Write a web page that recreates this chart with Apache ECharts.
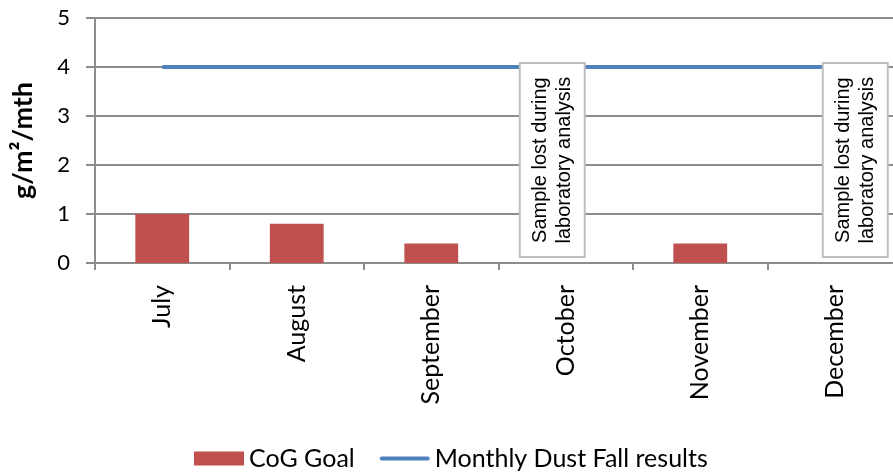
<!DOCTYPE html>
<html>
<head>
<meta charset="utf-8">
<script src="https://cdn.jsdelivr.net/npm/echarts@6/dist/echarts.min.js"></script>
<style>
  html, body { margin: 0; padding: 0; background: #fff; }
  #chart { width: 893px; height: 475px; }
</style>
</head>
<body>
<div id="chart"></div>
<script>
// Monthly values
const months = ['July', 'August', 'September', 'October', 'November', 'December'];
const cogGoal = [1.0, 0.8, 0.4, null, 0.4, null];
const dustFall = [4, 4, 4, 4, 4, 4];
const yTicks = [0, 1, 2, 3, 4, 5];

// Notes for months whose sample was lost
const noteMonths = ['October', 'December'];
const noteText = 'Sample lost during\nlaboratory analysis';

const chart = echarts.init(document.getElementById('chart'), null, { renderer: 'canvas' });

const calibri = 'Lato, "Open Sans", sans-serif';
const gridColor = '#8c8c8c';
// horizontal shift of each note box relative to its month centre
const noteShift = { October: -46, December: -12 };

chart.setOption({
  animation: false,
  grid: {
    left: 95, right: -9, top: 18, bottom: 212,
    containLabel: false,
    outerBoundsMode: 'none'
  },
  legend: {
    top: 446,
    left: 194,
    padding: 0,
    itemWidth: 50,
    itemHeight: 14,
    itemGap: 25,
    textStyle: { fontFamily: calibri, fontSize: 25, color: '#000' },
    data: [
      { name: 'CoG Goal', icon: 'rect' },
      { name: 'Monthly Dust Fall results', icon: 'path://M4,0 L96,0 A4,4 0 0 1 96,8 L4,8 A4,4 0 0 1 4,0 Z' }
    ]
  },
  xAxis: {
    type: 'category',
    data: months,
    boundaryGap: true,
    axisLine: { lineStyle: { color: gridColor, width: 2 } },
    axisTick: { show: true, length: 7, lineStyle: { color: gridColor, width: 2 } },
    axisLabel: {
      rotate: 90,
      margin: 22,
      fontFamily: calibri,
      fontSize: 25,
      color: '#000'
    }
  },
  yAxis: {
    type: 'value',
    min: yTicks[0],
    max: yTicks[yTicks.length - 1],
    interval: 1,
    name: 'g/m²/mth',
    nameLocation: 'middle',
    nameRotate: 90,
    nameGap: 58,
    nameTextStyle: { fontFamily: calibri, fontSize: 27, fontWeight: 'bold', color: '#000' },
    axisLine: { show: true, lineStyle: { color: gridColor, width: 2 } },
    axisTick: { show: true, length: 9, lineStyle: { color: gridColor, width: 2 } },
    splitLine: { show: true, lineStyle: { color: gridColor, width: 2 } },
    axisLabel: {
      margin: 25,
      fontFamily: calibri,
      fontSize: 22,
      color: '#000'
    }
  },
  series: [
    {
      name: 'CoG Goal',
      type: 'bar',
      data: cogGoal,
      barWidth: '40%',
      itemStyle: { color: '#C0504D' },
      z: 2
    },
    {
      name: 'Monthly Dust Fall results',
      type: 'line',
      data: dustFall,
      symbol: 'none',
      lineStyle: { color: '#4F81BD', width: 4 },
      itemStyle: { color: '#4F81BD' },
      z: 3
    },
    {
      name: 'notes',
      type: 'custom',
      data: noteMonths.map(m => [m, 4.08, 0.12]),
      z: 10,
      silent: true,
      renderItem: function (params, api) {
        const m = noteMonths[params.dataIndex];
        const topPt = api.coord([api.value(0), api.value(1)]);
        const botPt = api.coord([api.value(0), api.value(2)]);
        const w = 65;
        const x = topPt[0] + noteShift[m];
        const y = topPt[1];
        const h = botPt[1] - topPt[1];
        return {
          type: 'group',
          children: [
            {
              type: 'rect',
              shape: { x: x, y: y, width: w, height: h },
              style: { fill: '#fff', stroke: '#bfbfbf', lineWidth: 2 }
            },
            {
              type: 'text',
              x: x + w / 2,
              y: y + h / 2,
              rotation: Math.PI / 2,
              style: {
                text: noteText,
                fontFamily: '"Liberation Sans", Arial, sans-serif',
                fontSize: 20,
                lineHeight: 24,
                fill: '#000',
                align: 'center',
                verticalAlign: 'middle'
              }
            }
          ]
        };
      }
    }
  ]
});
</script>
</body>
</html>
